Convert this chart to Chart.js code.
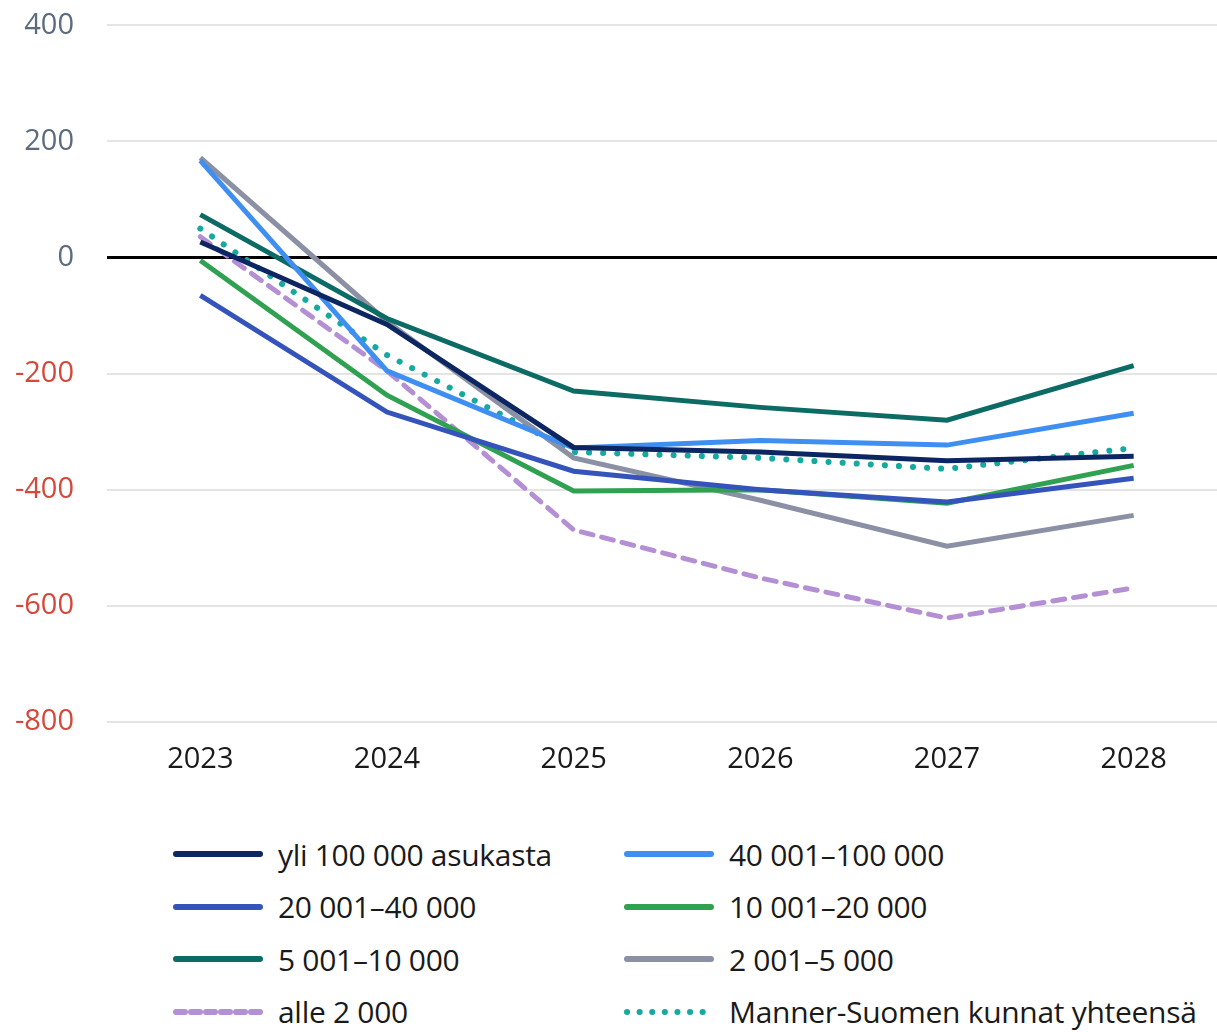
<!DOCTYPE html>
<html>
<head>
<meta charset="utf-8">
<script src="https://cdn.jsdelivr.net/npm/chart.js@4"></script>
<style>
  body { margin: 0; background: #fff; width: 1217px; height: 1032px; overflow: hidden; position: relative; }
  #wrap { position: absolute; left: 0; top: -25px; width: 1227px; height: 815px; }
  #legend { position: absolute; left: 172px; top: 828px; width: 1045px;
            font-family: "Open Sans", sans-serif; font-size: 30px; color: #1a1a1a; letter-spacing: -0.3px; }
  .item { position: absolute; height: 52px; display: flex; align-items: center; white-space: nowrap; }
  .item svg { margin-right: 14px; }
</style>
</head>
<body>
<div id="wrap"><canvas id="myChart"></canvas></div>
<div id="legend"></div>
<script>
var years = ['2023', '2024', '2025', '2026', '2027', '2028'];

var labels = ['yli 100 000 asukasta', '40 001–100 000', '20 001–40 000', '10 001–20 000',
              '5 001–10 000', '2 001–5 000', 'alle 2 000', 'Manner-Suomen kunnat yhteensä'];

var yli100000 = [27, -115, -327, -335, -350, -342];
var s40001 = [167, -195, -328, -315, -323, -268];
var s20001 = [-65, -266, -368, -400, -421, -380];
var s10001 = [-5, -237, -402, -400, -423, -358];
var s5001 = [74, -105, -230, -258, -280, -186];
var s2001 = [172, -110, -345, -418, -497, -444];
var alle2000 = [36, -195, -469, -552, -621, -569];
var manner = [50, -168, -335, -345, -364, -328];

var colors = ['#0b2660', '#3f8ff2', '#3554bb', '#2fa151', '#0c6b64', '#8c90a4', '#b48fd3', '#16a99f'];
var series = [yli100000, s40001, s20001, s10001, s5001, s2001, alle2000, manner];

var datasets = series.map(function (d, i) {
    var ds = {
        label: labels[i],
        data: d,
        borderColor: colors[i],
        backgroundColor: colors[i],
        borderWidth: 5,
        pointRadius: 0,
        tension: 0,
        fill: false
    };
    if (i == 6) { ds.borderDash = [12, 9]; ds.borderCapStyle = 'round'; }
    if (i == 7) { ds.borderDash = [0.1, 14]; ds.borderCapStyle = 'round'; ds.borderWidth = 6; }
    return ds;
});

var ctx = document.getElementById('myChart').getContext('2d');
var myChart = new Chart(ctx, {
    type: 'line',
    data: { labels: years, datasets: datasets },
    options: {
        responsive: true,
        maintainAspectRatio: false,
        animation: false,
        layout: { padding: { top: 0, right: 0, left: 0, bottom: 0 } },
        plugins: { legend: { display: false }, tooltip: { enabled: false } },
        scales: {
            x: {
                offset: true,
                grid: { display: false, drawTicks: false },
                border: { display: false },
                ticks: { color: '#1a1a1a', padding: 20, font: { family: 'Open Sans', size: 29, weight: '500' } },
                afterFit: function (scale) { scale.height = 68; }
            },
            y: {
                min: -800,
                max: 400,
                ticks: {
                    stepSize: 200,
                    padding: 33,
                    font: { family: 'Open Sans', size: 29, weight: '500' },
                    color: function (c) { return c.tick.value < 0 ? '#d5483b' : '#5c6b7e'; }
                },
                grid: {
                    drawTicks: false,
                    color: function (c) { return c.tick.value === 0 ? '#000' : '#e4e4e4'; },
                    lineWidth: function (c) { return c.tick.value === 0 ? 3 : 2; }
                },
                border: { display: false },
                afterFit: function (scale) { scale.width = 107; }
            }
        }
    }
});

// legend, two columns
var leg = document.getElementById('legend');
labels.forEach(function (l, i) {
    var col = i % 2, row = Math.floor(i / 2);
    var dash = '';
    if (i == 6) dash = 'stroke-dasharray="9 6"';
    if (i == 7) dash = 'stroke-dasharray="0.1 12.5"';
    var div = document.createElement('div');
    div.className = 'item';
    div.style.left = (col * 451) + 'px';
    div.style.top = (row * 52.5) + 'px';
    div.innerHTML = '<svg width="92" height="10"><line x1="4" y1="5" x2="88" y2="5" stroke="' + colors[i] +
        '" stroke-width="6" stroke-linecap="round" ' + dash + '/></svg><span>' + l + '</span>';
    leg.appendChild(div);
});
</script>
</body>
</html>
